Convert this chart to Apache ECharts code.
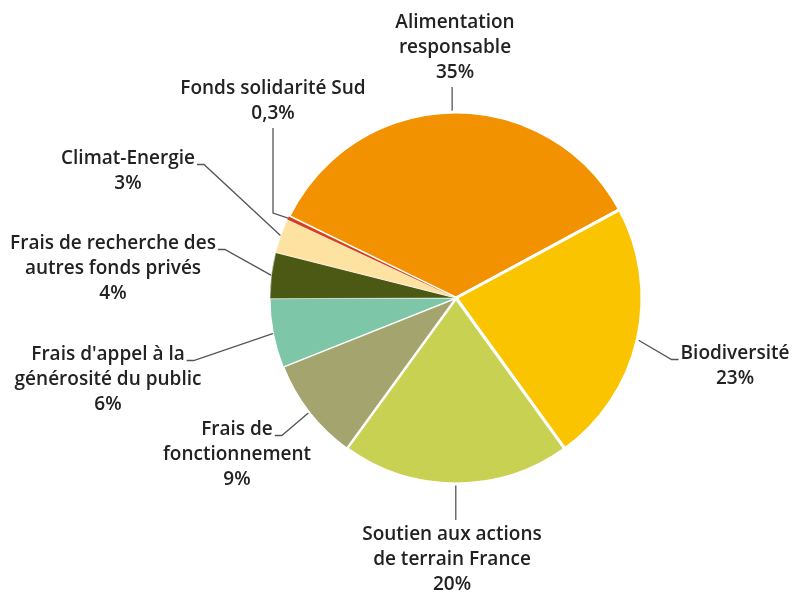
<!DOCTYPE html>
<html>
<head>
<meta charset="utf-8">
<script src="https://cdn.jsdelivr.net/npm/echarts@6/dist/echarts.min.js"></script>
<style>html,body{margin:0;padding:0;background:#fff;}#c{width:792px;height:594px;}</style>
</head>
<body>
<div id="c"></div>
<script>
const categories = [
  "Alimentation\nresponsable",
  "Biodiversité",
  "Soutien aux actions\nde terrain France",
  "Frais de\nfonctionnement",
  "Frais d'appel à la\ngénérosité du public",
  "Frais de recherche des\nautres fonds privés",
  "Climat-Energie",
  "Fonds solidarité Sud"
];
const values = [35, 23, 20, 9, 6, 4, 3, 0.3];
const colors = ["#F39200", "#FAC400", "#C9D152", "#A4A46E", "#7DC6A8", "#4C5915", "#FDE2A1", "#D5401E"];

// layout config
const CENTER = [456, 298], RADIUS = 186, START = 154;
const FONT_SIZE = 19, LINE_H = 25, FONT = '600 19px "Open Sans"';
const labelPos = [
  [455, 10], [735, 341], [452, 522], [237, 417],
  [108, 342], [113, 231], [128, 146], [273, 76]
];
// where the leader line meets the label: T = label above, B = label below,
// R = end of first line (label left of pie), L = start of first line, F = below label then elbow
const attachMode = ['T', 'L', 'B', 'R', 'R', 'R', 'R', 'F'];
const borderW = [3, 3, 3, 2, 1, 0.5, 0.5, 0];

const ctx = document.createElement('canvas').getContext('2d');
ctx.font = FONT;
function textW(s) { return ctx.measureText(s).width; }

const total = values.reduce((a, b) => a + b, 0);
function edgePoint(i) {
  let cum = 0;
  for (let k = 0; k < i; k++) cum += values[k];
  const ang = (START - (cum + values[i] / 2) / total * 360) * Math.PI / 180;
  return [CENTER[0] + RADIUS * Math.cos(ang), CENTER[1] - RADIUS * Math.sin(ang)];
}

const chart = echarts.init(document.getElementById('c'), null, {renderer: 'canvas'});
const data = categories.map((n, i) => ({
  name: n,
  value: values[i],
  itemStyle: {color: colors[i], borderColor: '#fff', borderWidth: borderW[i]}
}));

chart.setOption({
  animation: false,
  series: [{
    type: 'pie',
    center: CENTER,
    radius: [0, RADIUS],
    startAngle: START,
    clockwise: true,
    avoidLabelOverlap: false,
    data: data,
    label: {
      show: true,
      position: 'outside',
      formatter: p => p.name + '\n' + String(p.value).replace('.', ',') + '%',
      fontFamily: 'Open Sans',
      fontWeight: 600,
      fontSize: FONT_SIZE,
      lineHeight: LINE_H,
      color: '#222',
      align: 'center'
    },
    labelLine: {
      show: true,
      length: 15,
      length2: 10,
      lineStyle: {color: '#555', width: 1.3}
    },
    labelLayout: function (params) {
      const i = params.dataIndex;
      const p = labelPos[i];
      const sp = (params.labelLinePoints && params.labelLinePoints[0]) ? params.labelLinePoints[0].slice() : edgePoint(i);
      const lines = categories[i].split('\n').length + 1;
      const first = categories[i].split('\n')[0];
      const w = textW(first);
      const y1 = p[1] + LINE_H / 2 + 6;
      let pts;
      switch (attachMode[i]) {
        case 'T': {
          const a = [sp[0], p[1] + lines * LINE_H + 2];
          pts = [sp, [sp[0], (sp[1] + a[1]) / 2], a];
          break;
        }
        case 'B': {
          const a = [sp[0], p[1] - 2];
          pts = [sp, [sp[0], (sp[1] + a[1]) / 2], a];
          break;
        }
        case 'R': {
          const a = [p[0] + w / 2 + 2, y1];
          pts = [sp, [a[0] + 7, y1], a];
          break;
        }
        case 'L': {
          const a = [p[0] - w / 2 - 2, y1];
          pts = [sp, [a[0] - 7, y1], a];
          break;
        }
        case 'F': {
          const a = [p[0], p[1] + lines * LINE_H + 2];
          pts = [sp, [p[0], sp[1] - 5], a];
          break;
        }
      }
      return {x: p[0], y: p[1], align: 'center', verticalAlign: 'top', labelLinePoints: pts};
    }
  }]
});
</script>
</body>
</html>
